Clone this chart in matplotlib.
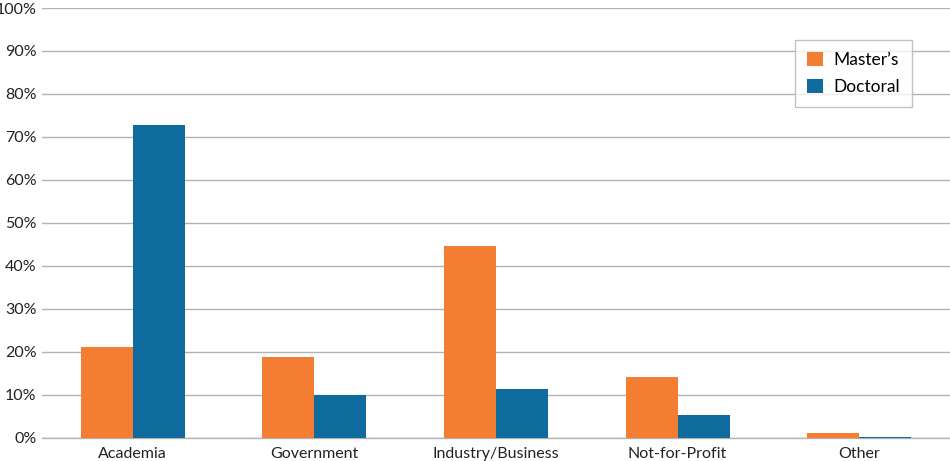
import matplotlib
matplotlib.use("Agg")
import matplotlib.pyplot as plt
import numpy as np

categories = ["Academia", "Government", "Industry/Business", "Not-for-Profit", "Other"]
masters = [21, 18.8, 44.7, 14, 1.0]
doctoral = [72.8, 9.8, 11.4, 5.3, 0.2]
yticks = [0, 10, 20, 30, 40, 50, 60, 70, 80, 90, 100]
ytick_labels = [f"{v}%" for v in yticks]

plt.rcParams['font.family'] = ['Lato', 'DejaVu Sans']

fig = plt.figure(figsize=(9.5, 4.61), dpi=100)
ax = fig.add_axes([42/950, 23.5/461, 908/950, 429.5/461])

x = np.arange(len(categories))
w = 0.286
ax.bar(x - w/2, masters, w, color="#F47D34", label="Master\u2019s", zorder=3)
ax.bar(x + w/2, doctoral, w, color="#0F6A9E", label="Doctoral", zorder=3)

ax.set_xlim(-0.5, 4.5)
ax.set_ylim(0, 100)
ax.set_yticks(yticks)
ax.set_yticklabels(ytick_labels)
ax.set_xticks(x)
ax.set_xticklabels(categories)
ax.yaxis.grid(True, color="#b3b3b3", linewidth=1.0, zorder=0)
for s in ["top", "right", "left"]:
    ax.spines[s].set_visible(False)
ax.spines["bottom"].set_color("#b3b3b3")
ax.spines["bottom"].set_linewidth(1.0)
ax.tick_params(axis="both", length=0, labelsize=11.5, colors="#222222")
ax.tick_params(axis="y", pad=4)
ax.tick_params(axis="x", pad=6.5)

leg = ax.legend(loc="upper right", bbox_to_anchor=(0.9585, 0.926), frameon=True, fancybox=False,
                fontsize=12.5, handlelength=0.9, handleheight=0.9, borderpad=0.7,
                labelspacing=0.6, handletextpad=0.6, borderaxespad=0)
leg.get_frame().set_edgecolor("#b3b3b3")
leg.get_frame().set_linewidth(1.0)

fig.savefig("out.png", dpi=100)
